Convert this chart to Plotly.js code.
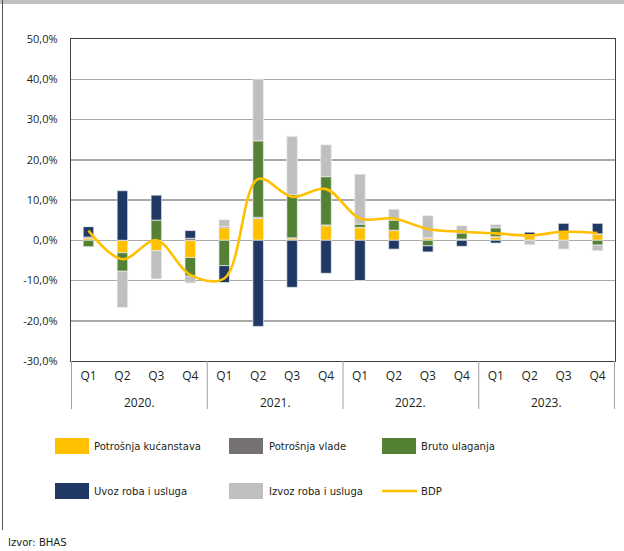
<!DOCTYPE html>
<html>
<head>
<meta charset="utf-8">
<script src="https://cdn.plot.ly/plotly-3.0.1.min.js"></script>
<style>
html,body{margin:0;padding:0;background:#fff;}
#chart{width:624px;height:551px;}
</style>
</head>
<body>
<div id="chart"></div>
<script>
// ---- data ----
var years = ['2020.','2020.','2020.','2020.','2021.','2021.','2021.','2021.','2022.','2022.','2022.','2022.','2023.','2023.','2023.','2023.'];
var quarters = ['Q1','Q2','Q3','Q4','Q1','Q2','Q3','Q4','Q1','Q2','Q3','Q4','Q1','Q2','Q3','Q4'];
var yearLabels = ['2020.','2021.','2022.','2023.'];
var seriesNames = ['Potrošnja kućanstava','Potrošnja vlade','Bruto ulaganja','Uvoz roba i usluga','Izvoz roba i usluga','BDP'];
var kucanstva = [0.5,-3.1,-2.6,-4.3, 3.1,5.4,0.4,3.6, 3.1,2.4,0.5,0.2, 0.8,1.1,2.1,1.5];
var vlade     = [0.3,0.0,0.0,0.5, 0.3,0.3,0.2,0.2, 0.1,0.1,0.2,0.1, 0.1,0.1,0.1,0.1];
var bruto     = [-1.6,-4.6,5.0,-4.6, -6.3,19.0,10.8,12.0, 0.8,2.5,-1.4,1.5, 2.2,0.2,0.0,-1.2];
var uvoz      = [2.6,12.3,6.2,1.9, -4.2,-21.4,-11.7,-8.2, -10.0,-2.2,-1.5,-1.5, -0.7,0.6,2.0,2.6];
var izvoz     = [0.0,-9.0,-7.0,-1.7, 1.7,15.3,14.4,7.9, 12.4,2.7,5.4,1.8, 0.8,-1.1,-2.2,-1.4];
var bdp       = [2.4,-4.7,0.0,-8.6, -9.5,15.2,10.8,12.7, 5.4,5.4,2.8,2.1, 1.7,1.2,2.1,1.8];
var yTicks = [-30,-20,-10,0,10,20,30,40,50];
var yTickText = ['-30,0%','-20,0%','-10,0%','0,0%','10,0%','20,0%','30,0%','40,0%','50,0%'];

// ---- style ----
var colors = ['#FFC000','#767171','#548235','#1F3864','#BFBFBF','#FFC000'];
var W = 624, H = 551;
var M = {l:71, r:9, t:39, b:190};
var pw = W - M.l - M.r, ph = H - M.t - M.b;
function px(x){ return (x - M.l)/pw; }
function py(y){ return (H - M.b - y)/ph; }
var FONT = '"Liberation Sans Narrow","DejaVu Sans Condensed","Open Sans",sans-serif';
var TFONT = '"Open Sans","Noto Sans",sans-serif';

var cats = years.map(function(y,i){ return y + ' ' + quarters[i]; });
var barVals = [kucanstva, vlade, bruto, uvoz, izvoz];
var traces = barVals.map(function(v,i){
  return {
    type:'bar', x:cats, y:v, name:seriesNames[i],
    marker:{color:colors[i], line:{color:'rgba(235,235,235,0.9)', width:0.8}},
    hoverinfo:'name+y', showlegend:false
  };
});
traces.push({
  type:'scatter', mode:'lines', x:cats, y:bdp, name:seriesNames[5],
  line:{color:colors[5], width:2.6, shape:'spline', smoothing:1},
  showlegend:false
});

var shapes = [], annotations = [];

// year group labels and dividers on the category axis
yearLabels.forEach(function(yl, g){
  annotations.push({xref:'x', yref:'paper', x:g*4+1.5, y:py(402),
    xanchor:'center', yanchor:'middle', showarrow:false, text:yl,
    font:{family:TFONT, size:12, color:'#231f20'}});
});
for(var g=0; g<=yearLabels.length; g++){
  shapes.push({type:'line', xref:'x', yref:'paper', x0:g*4-0.5, x1:g*4-0.5,
    y0:py(409), y1:0, line:{color:'#a0a0a0', width:1}});
}

// ---- legend (manual) ----
var legItems = [
  {i:0, sx:55, sy:446, tx:92},
  {i:1, sx:229, sy:446, tx:267},
  {i:2, sx:382, sy:446, tx:419},
  {i:3, sx:55, sy:491, tx:92},
  {i:4, sx:229, sy:491, tx:267},
  {i:5, sx:382, sy:491, tx:419}
];
legItems.forEach(function(it){
  if(it.i < 5){
    shapes.push({type:'rect', xref:'paper', yref:'paper',
      x0:px(it.sx), x1:px(it.sx+34), y0:py(it.sy+8), y1:py(it.sy-8),
      fillcolor:colors[it.i], line:{width:0}});
  } else {
    shapes.push({type:'line', xref:'paper', yref:'paper',
      x0:px(it.sx), x1:px(it.sx+35), y0:py(it.sy), y1:py(it.sy),
      line:{color:colors[it.i], width:2.5}});
  }
  annotations.push({xref:'paper', yref:'paper', x:px(it.tx), y:py(it.sy),
    xanchor:'left', yanchor:'middle', showarrow:false, text:seriesNames[it.i],
    font:{family:FONT, size:11.2, color:'#231f20'}});
});
annotations.push({xref:'paper', yref:'paper', x:px(6), y:py(542),
  xanchor:'left', yanchor:'middle', showarrow:false, text:'Izvor: BHAS',
  font:{family:FONT, size:11.2, color:'#231f20'}});

// frame decorations
shapes.push({type:'rect', xref:'paper', yref:'paper', x0:px(0), x1:px(W), y0:py(4), y1:py(0),
  fillcolor:'#C0C0C0', line:{width:0}, layer:'below'});
shapes.push({type:'line', xref:'paper', yref:'paper', x0:px(2.5), x1:px(2.5), y0:py(530), y1:py(0),
  line:{color:'#555', width:1}});

var layout = {
  width:W, height:H,
  margin:M,
  paper_bgcolor:'#fff', plot_bgcolor:'#fff',
  barmode:'relative', bargap:0.69,
  font:{family:TFONT, size:11, color:'#231f20'},
  separators:',.',
  xaxis:{
    type:'category', showgrid:false, ticks:'',
    tickmode:'array', tickvals:cats, ticktext:quarters, tickangle:0,
    showline:true, mirror:true, linecolor:'#404040', linewidth:1.2,
    ticklabelstandoff:3,
    tickfont:{family:TFONT, size:12, color:'#231f20'}
  },
  yaxis:{
    range:[-30,50], tickmode:'array', tickvals:yTicks, ticktext:yTickText,
    showgrid:true, gridcolor:'#a9a9a9', gridwidth:1.5,
    zeroline:true, zerolinecolor:'#a9a9a9', zerolinewidth:1.5,
    showline:true, mirror:true, linecolor:'#404040', linewidth:1.2,
    ticks:'', ticklabelstandoff:10,
    tickfont:{family:TFONT, size:11, color:'#231f20'}
  },
  shapes:shapes,
  annotations:annotations,
  showlegend:false
};
Plotly.newPlot('chart', traces, layout, {displayModeBar:false, staticPlot:true});
</script>
</body>
</html>
